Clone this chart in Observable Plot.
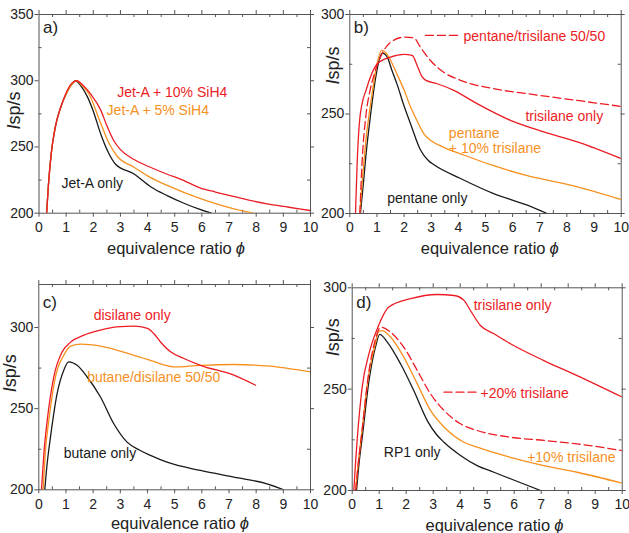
<!DOCTYPE html>
<html><head><meta charset="utf-8">
<script src="https://cdn.jsdelivr.net/npm/d3@7"></script>
<script src="https://cdn.jsdelivr.net/npm/@observablehq/plot@0.6"></script>
<style>
body{margin:0;background:#fff;}
#chart{position:relative;width:629px;height:533px;font-family:"Liberation Sans",Arial,sans-serif;background:#fff;}
#chart svg{position:absolute;}
</style></head><body><div id="chart"></div>
<script>
const RED = "#ec1c24", ORANGE = "#f7901e", BLACK = "#1a1a1a", AX = "#555", TXT = "#222";

// ---- shared ticks ----
const xTicks = [0,1,2,3,4,5,6,7,8,9,10];
const xMinor = [0.5,1.5,2.5,3.5,4.5,5.5,6.5,7.5,8.5,9.5];

// ---- panel a) Jet-A ----
const jetA = [[0.28,200],[0.35,222],[0.45,245],[0.6,265],[0.8,280],[1.0,290],[1.2,297],[1.35,300],[1.55,296],[1.78,288],[2.0,277],[2.27,260],[2.55,246],[2.82,237],[3.5,229.6],[4.11,220],[4.72,213.3],[5.34,207.5],[5.9,203],[6.35,200]];
const jetA5 = [[0.28,200],[0.35,222],[0.45,245],[0.6,265],[0.8,280],[1.0,290],[1.2,297],[1.38,300],[1.6,296],[1.84,290],[2.27,268],[2.6,252],[2.88,243],[3.5,234.7],[4.1,227],[4.72,221],[5.95,211],[7.18,203.3],[7.91,200]];
const jetA10 = [[0.28,200],[0.35,222],[0.45,245],[0.6,265],[0.8,280],[1.0,291],[1.2,298],[1.4,300],[1.6,297],[1.9,290],[2.27,278],[2.5,266],[2.76,254.5],[3.0,248],[3.5,240.5],[4.1,234.7],[4.7,229.6],[5.3,225],[5.95,219],[6.5,216],[7.2,212.5],[8.4,207],[9.2,204.5],[10,202]];
const labelsA = ["Jet-A + 10% SiH4","Jet-A + 5% SiH4","Jet-A only"];

// ---- panel b) pentane ----
const pentane = [[0.39,200],[0.5,215],[0.6,230],[0.76,249],[0.95,268],[1.1,278],[1.2,280.6],[1.38,278.6],[1.55,272],[1.74,265],[2.0,254],[2.24,245],[2.6,232],[2.9,226.5],[3.1,224.5],[4.08,217.6],[5.3,210],[6.54,204.2],[7.27,200]];
const pentane10 = [[0.37,200],[0.48,220],[0.58,235],[0.82,260],[1.0,275],[1.17,282],[1.31,281],[1.5,277],[1.74,270],[2.0,262],[2.24,253.5],[2.5,246],[2.73,240],[3.0,236.5],[3.5,233],[4.08,230],[5.3,224],[6.54,219],[8.38,213.4],[10,207]];
const trisilaneB = [[0.21,200],[0.27,225],[0.35,245],[0.45,255],[0.6,262],[0.76,268.6],[1.0,275],[1.5,278.6],[1.99,280],[2.3,279.4],[2.48,274.4],[2.65,269],[2.79,267],[3.22,265.2],[3.83,261.9],[4.69,255.2],[5.92,246.8],[7.15,241],[8.38,236],[10,227.6]];
const pentTri5050 = [[0.37,200],[0.45,225],[0.6,250],[0.75,262],[0.88,269],[1.13,278.6],[1.5,286],[2.0,288.6],[2.36,288.3],[2.6,283.6],[2.97,276.9],[3.46,271],[4.08,266.9],[5.3,262.7],[6.54,260.2],[8.38,256.8],[10,253.8]];
const labelsB = ["pentane/trisilane 50/50","trisilane only","pentane","+ 10% trisilane","pentane only"];

// ---- panel c) butane ----
const butane = [[0.22,200],[0.3,215],[0.43,232.5],[0.67,259],[0.92,273.7],[1.1,278.8],[1.41,276.7],[1.78,269.5],[2.27,257.2],[2.76,240.7],[3.25,229.4],[3.7,224.5],[4.11,221.2],[4.72,217],[5.95,211.9],[7.18,207.8],[8.4,203.7],[9.02,200]];
const butDis5050 = [[0.16,200],[0.25,225],[0.37,242.8],[0.61,269.5],[0.92,282.9],[1.17,288.5],[1.53,289.7],[2.27,288.5],[3.5,282.9],[4.11,279.8],[4.6,277],[4.97,275.7],[5.95,276.7],[7.18,277.2],[8.4,276.3],[10,272.6]];
const disilane = [[0.1,200],[0.2,225],[0.31,242.8],[0.55,269.5],[0.86,285],[1.17,291],[1.66,295.3],[2.27,298.4],[2.88,300.4],[3.5,300.8],[4.0,299.4],[4.23,296.3],[4.48,291.1],[4.85,285],[5.34,280.9],[5.95,276.7],[7.18,270.6],[7.98,264.4]];
const labelsC = ["disilane only","butane/disilane 50/50","butane only"];

// ---- panel d) RP1 ----
const rp1 = [[0.16,200],[0.25,213],[0.37,226],[0.62,254],[0.86,270.7],[1.02,277],[1.3,273.2],[1.79,262.5],[2.28,249.3],[2.78,234.5],[3.1,228],[3.4,223.8],[4.01,217.3],[4.63,212.3],[5.25,209],[5.86,205.8],[6.98,200]];
const rp1Tri10 = [[0.12,200],[0.22,213],[0.35,228],[0.6,256],[0.85,272],[0.99,278.6],[1.11,278.9],[1.42,275.7],[1.91,265.8],[2.41,252.6],[2.9,239.5],[3.4,231.3],[4.14,223.8],[4.63,221.4],[5.86,216.4],[7.1,212.3],[8.33,209],[10,203.6]];
const rp1Tri20 = [[0.13,200],[0.23,214],[0.36,229],[0.6,257],[0.85,274],[1.05,280.6],[1.42,278.1],[1.91,270.7],[2.41,259.2],[2.9,247.7],[3.4,239.5],[4.01,232.9],[4.63,229.6],[5.86,226.3],[7.1,224.7],[8.33,223],[10,219.7]];
const trisilaneD = [[0.06,200],[0.12,213],[0.19,226],[0.37,251],[0.62,267.4],[0.93,279.8],[1.36,290.5],[2.16,294.6],[3.15,296.7],[3.77,296.2],[4.14,293.8],[4.38,288.8],[4.75,281.4],[5.25,277.3],[5.86,272.4],[7.1,264.1],[8.33,256.7],[10,246.1]];
const labelsD = ["trisilane only","+20% trisilane","+10% trisilane","RP1 only"];

const chart = document.getElementById("chart");
const FONT = '"Liberation Sans", Arial, sans-serif';

function panel(cfg) {
  const innerH = cfg.height - cfg.mt - cfg.mb;
  const innerW = cfg.width - cfg.ml - cfg.mr;
  const marks = [
    // minor ticks, inward
    Plot.tickX(xMinor, {x: d => d, stroke: AX, insetTop: innerH - 3}),
    Plot.tickX(xMinor, {x: d => d, stroke: AX, insetBottom: innerH - 3}),
    Plot.tickY(cfg.yMinor, {y: d => d, stroke: AX, insetLeft: innerW - 3}),
    Plot.tickY(cfg.yMinor, {y: d => d, stroke: AX, insetRight: innerW - 3}),
    // major ticks top/right, outward
    Plot.tickX(xTicks, {x: d => d, stroke: AX, insetTop: -4, insetBottom: innerH}),
    Plot.tickY(cfg.yTicks, {y: d => d, stroke: AX, insetLeft: innerW, insetRight: -4}),
    Plot.axisX({ticks: xTicks, tickSize: 4, tickPadding: 5, stroke: AX, fill: TXT, fontSize: 14, label: null}),
    Plot.axisY({ticks: cfg.yTicks, tickSize: 4, tickPadding: 1.5, stroke: AX, fill: TXT, fontSize: 14, label: null}),
    Plot.frame({stroke: AX})
  ];
  for (const s of cfg.series) {
    marks.push(Plot.line(s.data, {x: d => d[0], y: d => d[1], stroke: s.color, strokeWidth: 1.3,
      strokeDasharray: s.dash ? "8,4" : null, curve: s.linear ? "linear" : "monotone-x", clip: true}));
  }
  cfg.labels.forEach((t, i) => {
    const p = cfg.labelPos[i];
    marks.push(Plot.text([t], {x: () => p[0], y: () => p[1], text: d => d, fill: p[2], fontSize: 14,
      textAnchor: "start", lineAnchor: "middle"}));
  });
  // panel tag
  marks.push(Plot.text([cfg.tag], {frameAnchor: "top-left", text: d => d, dx: 4, dy: cfg.tagDy, fontSize: 17,
    fill: TXT, textAnchor: "start", lineAnchor: "middle"}));
  // y label: italic I + sp/s
  marks.push(Plot.text(["I"], {frameAnchor: "left", text: d => d, dx: cfg.ylab[0], dy: cfg.ylab[1], rotate: -90,
    fontSize: 18, fontStyle: "italic", fill: TXT, textAnchor: "end", lineAnchor: "middle"}));
  marks.push(Plot.text(["sp/s"], {frameAnchor: "left", text: d => d, dx: cfg.ylab[0], dy: cfg.ylab[1], rotate: -90,
    fontSize: 18, fill: TXT, textAnchor: "start", lineAnchor: "middle"}));
  // x label
  marks.push(Plot.text(["equivalence ratio"], {frameAnchor: "bottom", text: d => d, dx: cfg.xlab[0], dy: cfg.xlab[1],
    fontSize: 16.5, fill: TXT, textAnchor: "end", lineAnchor: "middle"}));
  marks.push(Plot.text(["\u03D5"], {frameAnchor: "bottom", text: d => d, dx: cfg.xlab[0] + 4, dy: cfg.xlab[1],
    fontSize: 16.5, fontStyle: "italic", fill: TXT, textAnchor: "start", lineAnchor: "middle"}));

  const svg = Plot.plot({
    width: cfg.width, height: cfg.height,
    marginLeft: cfg.ml, marginRight: cfg.mr, marginTop: cfg.mt, marginBottom: cfg.mb,
    x: {domain: [0, 10]},
    y: {domain: cfg.yDomain},
    style: {background: "none", overflow: "visible", fontFamily: FONT, maxWidth: "none"},
    marks
  });
  svg.style.left = cfg.left + "px";
  svg.style.top = cfg.top + "px";
  chart.appendChild(svg);
}

panel({
  left: 0, top: 0, width: 315, height: 265, ml: 38.5, mr: 5, mt: 14, mb: 52.3,
  yDomain: [200, 350], yTicks: [200, 250, 300, 350], yMinor: [225, 275, 325],
  series: [{data: jetA, color: BLACK}, {data: jetA5, color: ORANGE}, {data: jetA10, color: RED}],
  labels: labelsA,
  labelPos: [[2.88, 291.3, RED], [2.49, 277.5, ORANGE], [0.83, 222.6, BLACK]],
  tag: "a)", tagDy: 13, ylab: [-24.5, 10.7], xlab: [57, 35.5]
});

panel({
  left: 310, top: 0, width: 319, height: 265, ml: 39.3, mr: 8.3, mt: 14, mb: 52,
  yDomain: [200, 300], yTicks: [200, 250, 300], yMinor: [225, 275],
  series: [{data: pentane, color: BLACK}, {data: pentane10, color: ORANGE}, {data: trisilaneB, color: RED},
           {data: pentTri5050, color: RED, dash: true},
           {data: [[2.79, 289.5], [3.98, 289.5]], color: RED, dash: true, linear: true}],
  labels: labelsB,
  labelPos: [[4.19, 288.9, RED], [6.47, 248.7, RED], [3.65, 240.2, ORANGE], [3.65, 232.6, ORANGE], [1.38, 207.4, BLACK]],
  tag: "b)", tagDy: 13, ylab: [-17, -34.5], xlab: [60, 35.3]
});

panel({
  left: 0, top: 270, width: 315, height: 263, ml: 38.3, mr: 5, mt: 14, mb: 43.7,
  yDomain: [200, 326.5], yTicks: [200, 250, 300], yMinor: [225, 275],
  series: [{data: butane, color: BLACK}, {data: butDis5050, color: ORANGE}, {data: disilane, color: RED}],
  labels: labelsC,
  labelPos: [[2.02, 307.6, RED], [1.78, 269.1, ORANGE], [0.92, 222.6, BLACK]],
  tag: "c)", tagDy: 17.7, ylab: [-28.3, 0], xlab: [61, 33.7]
});

panel({
  left: 310, top: 270, width: 319, height: 263, ml: 41.7, mr: 7.3, mt: 17.3, mb: 43,
  yDomain: [200, 300], yTicks: [200, 250, 300], yMinor: [225, 275],
  series: [{data: rp1, color: BLACK}, {data: rp1Tri10, color: ORANGE}, {data: rp1Tri20, color: RED, dash: true},
           {data: trisilaneD, color: RED},
           {data: [[3.4, 248.5], [4.63, 248.5]], color: RED, dash: true, linear: true}],
  labels: labelsD,
  labelPos: [[4.5, 291.3, RED], [4.75, 248, RED], [6.48, 216.4, ORANGE], [1.17, 218.9, BLACK]],
  tag: "d)", tagDy: 14.4, ylab: [-19, -38], xlab: [63, 35]
});
</script></body></html>
